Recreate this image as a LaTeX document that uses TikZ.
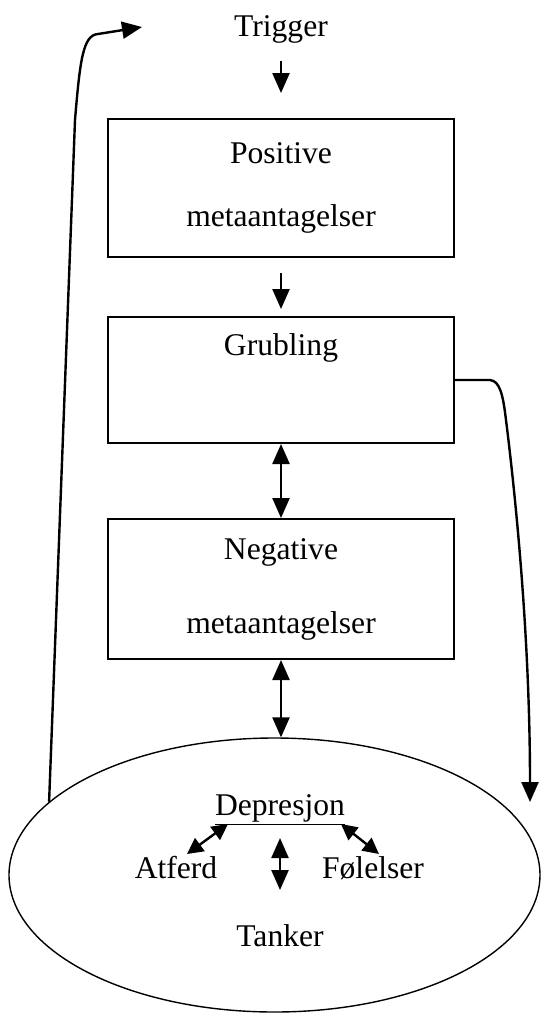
\documentclass[tikz,border=0pt]{standalone}
\usepackage{fontspec}
\setmainfont{Liberation Serif}
\usetikzlibrary{arrows.meta,shapes.geometric,positioning}

\begin{document}
\begin{tikzpicture}[x=0.5pt,y=-0.5pt,line width=1pt]
		\tikzstyle{ArrSty}=[-{Triangle[length=10pt,width=8.5pt]},line width=1.2pt]
		\tikzstyle{DArrSty}=[{Triangle[length=10pt,width=8.5pt]}-{Triangle[length=10pt,width=8.5pt]},line width=1.2pt]
		\tikzstyle{SmallSty}=[{Triangle[length=8pt,width=8pt]}-{Triangle[length=8pt,width=8pt]},line width=1.2pt]
		\tikzstyle{txt}=[inner sep=0pt,
							  font=\fontsize{15.8}{19}\selectfont]
		\tikzstyle{metabox}=[draw,txt,
								  minimum width=173pt,
								  align=center]
		\tikzstyle{circle0}=[draw,ellipse,
								  line width=0.7pt,
								  inner sep=0pt,
								  minimum width=265.5pt,
								  minimum height=137pt]

\useasboundingbox (0,0) rectangle (541,1013);

% main column
	\node [txt] (trigger) at (281,29.7) {Trigger};
	\node [metabox,minimum height=69pt] (pos) at (281,188) {Positive\\[12.5pt]metaantagelser};
	\node [metabox,minimum height=63pt] (grub) at (281,380) {};
	\node [txt,below=8.2pt of grub.north] (grubtxt) {Grubling};
	\node [metabox,minimum height=70pt] (neg) at (281,589) {Negative\\[18pt]metaantagelser};

% depression circle
	\node [circle0] (dep) at (274.5,875) {};
\begin{scope}[every node/.style={txt,anchor=base}]
	\node (deptxt) at (280,815) {\underline{Depresjon}};
	\node (atferd) at (176,878) {Atferd};
	\node (feel) at (373,878) {Følelser};
	\node (tanker) at (280,946) {Tanker};
\end{scope}

	\path (trigger) edge[ArrSty,shorten <=8pt,shorten >=12.5pt] (pos);
	\path (pos) edge[ArrSty,shorten <=7.5pt,shorten >=3.5pt] (grub);
	\path (grub) edge[DArrSty] (neg);
	\draw[DArrSty] (neg.south) -- (neg.south |- dep.north);

	\draw[SmallSty] ([shift={(11,-24)}]atferd.base) -- ([shift={(-52,9)}]deptxt.base);
	\draw[SmallSty] ([shift={(61,9)}]deptxt.base) -- ([shift={(6,-24)}]feel.base);
	\draw[DArrSty] ([shift={(0,23)}]deptxt.base) -- ([shift={(0,-56)}]tanker.base);

% feedback loops
	\coordinate (loopend) at (142,27);
	\draw[ArrSty] (dep.162.4) -- (75,120) .. controls (80,60) and (83,35) .. (98,34) -- (loopend);
	\coordinate (ruminend) at (530,802);
	\draw[ArrSty] (grub.east) -- (490,380) .. controls (500,381) and (503,395) .. (506,420)
		.. controls (516,500) and (530,640) .. (ruminend);

\end{tikzpicture}
\end{document}
